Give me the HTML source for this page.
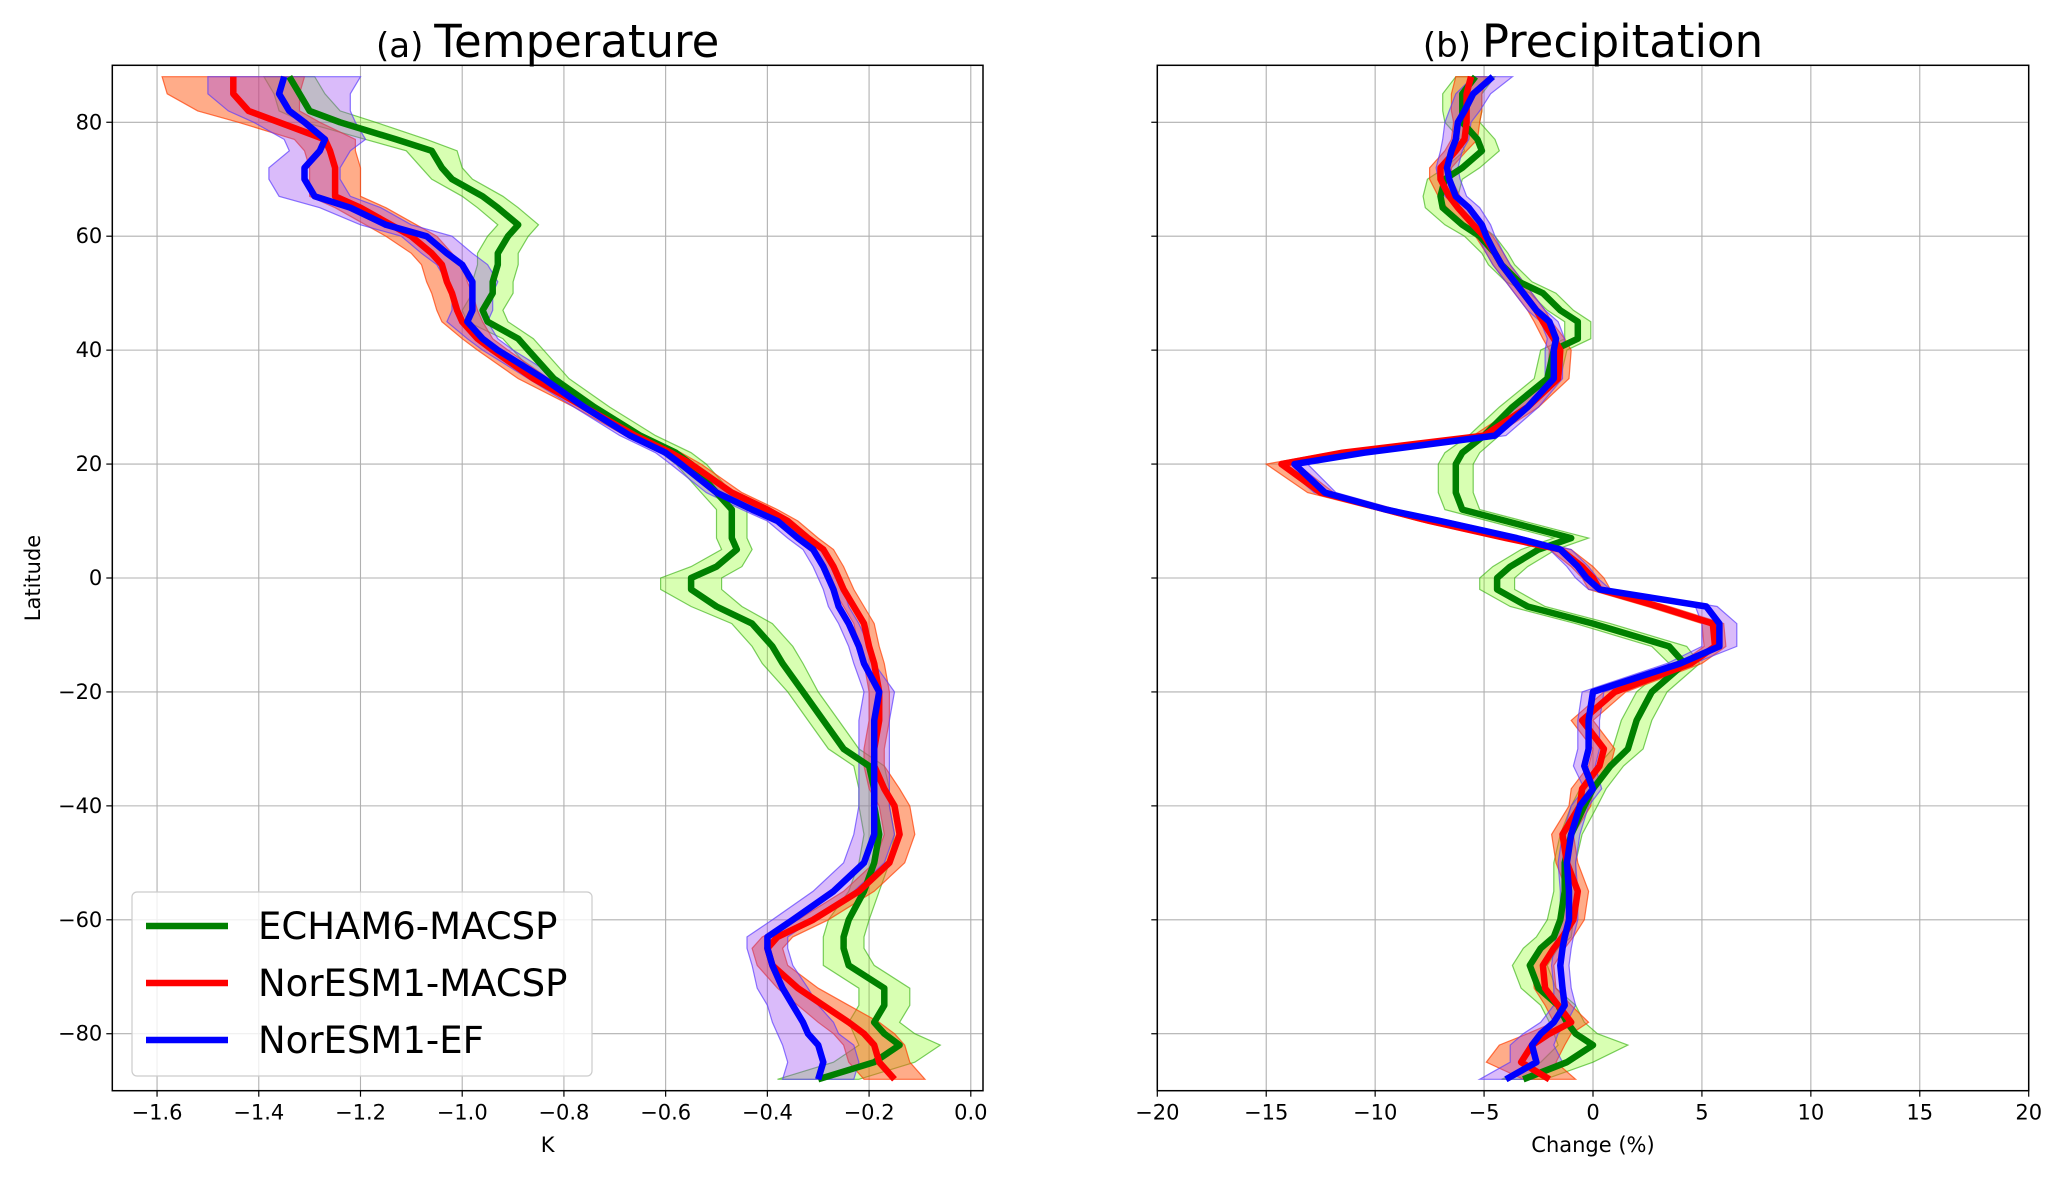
<!DOCTYPE html>
<html><head><meta charset="utf-8"><style>
body{margin:0;background:#fff}
svg{display:block;font-family:"DejaVu Sans","Liberation Sans",sans-serif}
</style></head><body>
<svg id="fig" width="2067" height="1177" viewBox="0 0 2067 1177" xmlns="http://www.w3.org/2000/svg">
<rect width="2067" height="1177" fill="#fff"/>
</svg>
<script>
const lats=[88,85,82,80,77,75,72,70,67,65,62,60,57,55,52,50,47,45,42,40,35,30,25,22,20,15,12,10,7,5,2,0,-2,-5,-8,-12,-15,-20,-25,-30,-33,-37,-40,-45,-50,-55,-60,-63,-65,-68,-72,-75,-78,-80,-82,-85,-88];
const tGreen=[-1.34,-1.32,-1.30,-1.24,-1.13,-1.06,-1.04,-1.02,-0.96,-0.93,-0.89,-0.91,-0.93,-0.93,-0.94,-0.94,-0.96,-0.95,-0.89,-0.87,-0.82,-0.74,-0.65,-0.58,-0.55,-0.50,-0.47,-0.47,-0.47,-0.46,-0.50,-0.55,-0.55,-0.50,-0.43,-0.39,-0.37,-0.33,-0.29,-0.25,-0.20,-0.19,-0.19,-0.18,-0.19,-0.21,-0.24,-0.25,-0.25,-0.24,-0.17,-0.17,-0.19,-0.17,-0.14,-0.19,-0.30];
const tRed=[-1.45,-1.45,-1.42,-1.36,-1.27,-1.26,-1.25,-1.25,-1.25,-1.20,-1.14,-1.10,-1.06,-1.04,-1.03,-1.02,-1.01,-1.00,-0.97,-0.94,-0.86,-0.76,-0.66,-0.59,-0.55,-0.47,-0.40,-0.36,-0.32,-0.29,-0.27,-0.26,-0.25,-0.23,-0.21,-0.20,-0.19,-0.18,-0.18,-0.19,-0.19,-0.17,-0.15,-0.14,-0.16,-0.22,-0.31,-0.38,-0.40,-0.39,-0.34,-0.29,-0.24,-0.21,-0.19,-0.18,-0.15];
const tBlue=[-1.35,-1.36,-1.34,-1.31,-1.27,-1.28,-1.31,-1.31,-1.29,-1.22,-1.15,-1.07,-1.03,-1.00,-0.98,-0.98,-0.98,-0.99,-0.96,-0.93,-0.84,-0.76,-0.67,-0.60,-0.57,-0.50,-0.43,-0.38,-0.34,-0.31,-0.29,-0.28,-0.27,-0.26,-0.24,-0.22,-0.21,-0.18,-0.19,-0.19,-0.19,-0.19,-0.19,-0.19,-0.21,-0.27,-0.35,-0.40,-0.40,-0.39,-0.37,-0.35,-0.33,-0.32,-0.30,-0.29,-0.30];
const tGreenHw=[0.05,0.05,0.06,0.07,0.06,0.05,0.04,0.04,0.04,0.04,0.04,0.04,0.04,0.04,0.04,0.04,0.04,0.04,0.03,0.03,0.03,0.03,0.03,0.03,0.03,0.03,0.03,0.03,0.03,0.03,0.05,0.06,0.06,0.05,0.04,0.04,0.04,0.03,0.03,0.03,0.03,0.03,0.03,0.03,0.03,0.03,0.04,0.04,0.04,0.05,0.05,0.05,0.05,0.06,0.08,0.08,0.08];
const tRedHw=[0.14,0.13,0.10,0.08,0.06,0.05,0.05,0.05,0.05,0.05,0.05,0.05,0.04,0.04,0.04,0.04,0.04,0.04,0.03,0.03,0.03,0.02,0.02,0.02,0.02,0.02,0.02,0.02,0.02,0.02,0.02,0.02,0.02,0.02,0.02,0.02,0.02,0.02,0.02,0.02,0.02,0.03,0.03,0.03,0.03,0.03,0.03,0.03,0.03,0.03,0.04,0.05,0.06,0.06,0.06,0.06,0.06];
const tBlueHw=[0.15,0.14,0.12,0.10,0.08,0.06,0.07,0.07,0.07,0.06,0.05,0.05,0.05,0.05,0.05,0.04,0.04,0.04,0.03,0.03,0.03,0.02,0.02,0.02,0.02,0.02,0.02,0.02,0.02,0.02,0.02,0.02,0.02,0.02,0.02,0.02,0.02,0.03,0.03,0.03,0.03,0.03,0.03,0.04,0.04,0.04,0.04,0.04,0.04,0.04,0.05,0.05,0.06,0.06,0.07,0.07,0.07];
const pGreen=[-5.4,-6,-6.0,-6.0,-5.3,-5.1,-6.0,-6.8,-7.0,-6.9,-6.0,-5.2,-4.5,-4.2,-3.4,-2.3,-1.5,-0.7,-0.7,-1.8,-2.1,-3.7,-5.0,-6.0,-6.3,-6.3,-6.0,-4.0,-1.0,-2.5,-3.8,-4.4,-4.4,-3.0,0,3.5,4.2,2.7,2.0,1.6,0.8,0,-0.4,-1.0,-1.3,-1.3,-1.5,-1.8,-2.4,-2.9,-2.5,-1.6,-1.2,-0.8,0,-1.2,-3.2];
const pRed=[-5.6,-5.8,-5.8,-5.8,-5.9,-6.3,-7.0,-7.0,-6.6,-6.2,-5.5,-5.0,-4.5,-4.2,-3.6,-3.2,-2.6,-2.3,-1.8,-1.5,-1.6,-3.0,-5.0,-11.5,-14.3,-12.5,-9.5,-7.5,-4.0,-1.5,-0.5,0,0.3,3.0,5.5,5.6,4.5,1.0,-0.5,0.5,0.3,-0.5,-0.6,-1.4,-1.2,-0.7,-0.9,-1.4,-1.8,-2.3,-2.2,-1.6,-1.0,-2.0,-2.8,-3.3,-2.0];
const pBlue=[-4.6,-5.5,-5.9,-6.2,-6.3,-6.5,-6.7,-6.6,-6.3,-5.7,-5.1,-4.9,-4.5,-4.2,-3.6,-3.2,-2.6,-2.0,-1.7,-1.8,-1.8,-3.0,-4.5,-10.5,-13.7,-12.3,-9.5,-7.0,-3.5,-1.5,-0.7,-0.3,0.3,5.2,5.8,5.8,4.0,0,-0.2,-0.2,-0.4,0,-0.6,-1.0,-1.2,-1.1,-1.1,-1.3,-1.4,-1.5,-1.4,-1.3,-1.8,-2.4,-2.8,-2.6,-4.0];
const pGreenHw=[0.9,0.9,0.9,0.8,0.8,0.8,0.8,0.8,0.8,0.8,0.8,0.7,0.6,0.6,0.6,0.6,0.6,0.6,0.6,0.6,0.6,0.6,0.7,0.8,0.8,0.8,0.8,0.8,0.8,0.8,0.8,0.8,0.8,0.8,0.8,0.8,0.7,0.7,0.7,0.7,0.6,0.6,0.6,0.5,0.5,0.5,0.6,0.8,0.8,0.8,0.8,0.8,0.8,1.0,1.6,1.2,1.0];
const pRedHw=[0.7,0.7,0.7,0.6,0.6,0.5,0.5,0.5,0.5,0.5,0.4,0.4,0.4,0.4,0.4,0.4,0.4,0.4,0.5,0.5,0.5,0.5,0.5,0.6,0.7,0.6,0.5,0.5,0.5,0.5,0.5,0.5,0.5,0.5,0.5,0.5,0.5,0.5,0.5,0.5,0.5,0.5,0.5,0.5,0.5,0.5,0.5,0.5,0.5,0.5,0.5,0.6,0.8,1.0,1.5,1.6,1.2];
const pBlueHw=[0.9,0.8,0.7,0.6,0.6,0.5,0.5,0.5,0.5,0.5,0.4,0.4,0.4,0.4,0.4,0.4,0.4,0.4,0.4,0.4,0.4,0.5,0.5,0.5,0.6,0.5,0.5,0.5,0.5,0.5,0.5,0.5,0.5,0.5,0.8,0.8,0.6,0.5,0.5,0.5,0.5,0.4,0.4,0.4,0.4,0.4,0.4,0.4,0.4,0.4,0.4,0.5,0.6,0.8,1.0,1.2,1.2];
const latTicks=[80,60,40,20,0,-20,-40,-60,-80];
const tTicks=[-1.6,-1.4,-1.2,-1.0,-0.8,-0.6,-0.4,-0.2,0.0];
const pTicks=[-20,-15,-10,-5,0,5,10,15,20];
const legendNames=["ECHAM6-MACSP","NorESM1-MACSP","NorESM1-EF"];

const NS="http://www.w3.org/2000/svg";
const svg=document.getElementById('fig');
function mk(tag,attrs,parent){const e=document.createElementNS(NS,tag);for(const k in attrs)e.setAttribute(k,attrs[k]);(parent||svg).appendChild(e);return e;}
const yTop=65.3,yBot=1090.7;
function yS(lat){return yTop+(90-lat)/180*(yBot-yTop);}
const fmt=v=>(v<0?'\u2212':'')+Math.abs(v).toFixed(1);

function panel(key,x0,x1,xmin,xmax,ticks,tickFmt,showY,xlabel,series,title1,title2){
  const xS=v=>x0+(v-xmin)/(xmax-xmin)*(x1-x0);
  const g=mk('g',{});
  
  
  const clipId='clip-'+key;
  const cp=mk('clipPath',{id:clipId},g);mk('rect',{x:x0,y:yTop,width:x1-x0,height:yBot-yTop},cp);
  ticks.forEach(t=>{const X=xS(t);
    const gl=mk('line',{x1:X,x2:X,y1:yTop,y2:yBot,stroke:'#b0b0b0','stroke-width':1.1},g);
    
    
    mk('line',{x1:X,x2:X,y1:yBot,y2:yBot+6,stroke:'#000','stroke-width':1.2},g);
    const tl=mk('text',{x:X,y:yBot+29,'font-size':21,'text-anchor':'middle'},g);tl.textContent=tickFmt(t);
    
    
  });
  latTicks.forEach(t=>{const Y=yS(t);
    const gl=mk('line',{x1:x0,x2:x1,y1:Y,y2:Y,stroke:'#b0b0b0','stroke-width':1.1},g);
    
    
    mk('line',{x1:x0-6,x2:x0,y1:Y,y2:Y,stroke:'#000','stroke-width':1.2},g);
    if(showY){const tl=mk('text',{x:x0-10,y:Y+7,'font-size':21,'text-anchor':'end'},g);tl.textContent=(t<0?'\u2212':'')+Math.abs(t);
      
      }
  });
  const dg=mk('g',{'clip-path':'url(#'+clipId+')'},g);
  series.forEach(s=>{
    let d='';lats.forEach((la,i)=>{d+=(i?'L':'M')+xS(s.v[i]-s.hw[i]).toFixed(1)+','+yS(la).toFixed(1);});
    for(let i=lats.length-1;i>=0;i--)d+='L'+xS(s.v[i]+s.hw[i]).toFixed(1)+','+yS(lats[i]).toFixed(1);
    const b=mk('path',{d:d+'Z',fill:s.fill,stroke:s.edge,'stroke-width':1.2},dg);
    
    
  });
  series.forEach(s=>{
    const pts=lats.map((la,i)=>xS(s.v[i]).toFixed(1)+','+yS(la).toFixed(1)).join(' ');
    const l=mk('polyline',{points:pts,fill:'none',stroke:s.color,'stroke-width':6.5,'stroke-linejoin':'round'},dg);
    
    
  });
  mk('rect',{x:x0,y:yTop,width:x1-x0,height:yBot-yTop,fill:'none',stroke:'#000','stroke-width':1.5},g);
  const xl=mk('text',{x:(x0+x1)/2,y:1152,'font-size':21,'text-anchor':'middle'},g);xl.textContent=xlabel;
  
  
  const tt=mk('text',{x:(x0+x1)/2,y:57,'text-anchor':'middle'},g);
  
  
  const a=mk('tspan',{'font-size':34},tt);a.textContent=title1+' ';
  const b2=mk('tspan',{'font-size':45},tt);b2.textContent=title2;
}
const GF='rgba(127,255,0,0.3)',GE='rgba(40,170,0,0.6)',RF='rgba(255,90,20,0.5)',RE='rgba(255,60,0,0.7)',BF='rgba(150,60,240,0.35)',BE='rgba(90,60,255,0.7)';
panel('temperature',112.3,983,-1.688,0.024,tTicks,fmt,true,'K',[
 {name:'echam6-macsp',v:tGreen,hw:tGreenHw,color:'#008000',fill:GF,edge:GE},
 {name:'noresm1-macsp',v:tRed,hw:tRedHw,color:'#ff0000',fill:RF,edge:RE},
 {name:'noresm1-ef',v:tBlue,hw:tBlueHw,color:'#0000ff',fill:BF,edge:BE}],'(a)','Temperature');
panel('precipitation',1157.3,2028.7,-20,20,pTicks,t=>(t<0?'\u2212':'')+Math.abs(t),false,'Change (%)',[
 {name:'echam6-macsp',v:pGreen,hw:pGreenHw,color:'#008000',fill:GF,edge:GE},
 {name:'noresm1-macsp',v:pRed,hw:pRedHw,color:'#ff0000',fill:RF,edge:RE},
 {name:'noresm1-ef',v:pBlue,hw:pBlueHw,color:'#0000ff',fill:BF,edge:BE}],'(b)','Precipitation');

const yl=mk('text',{x:0,y:0,'font-size':21,'text-anchor':'middle',transform:'translate(40,578) rotate(-90)'});
yl.textContent='Latitude';



const lg=mk('g',{});


mk('rect',{x:132,y:892,width:460,height:184,rx:5,fill:'rgba(255,255,255,0.8)',stroke:'#ccc','stroke-width':1.2},lg);
const lcol=['#008000','#ff0000','#0000ff'];
legendNames.forEach((n,i)=>{
  const Y=926+i*57;
  const e=mk('g',{},lg);
  
  
  mk('line',{x1:146,x2:228,y1:Y,y2:Y,stroke:lcol[i],'stroke-width':6.5},e);
  const t=mk('text',{x:258,y:Y+13,'font-size':37},e);t.textContent=n;
});
</script>
</body></html>
